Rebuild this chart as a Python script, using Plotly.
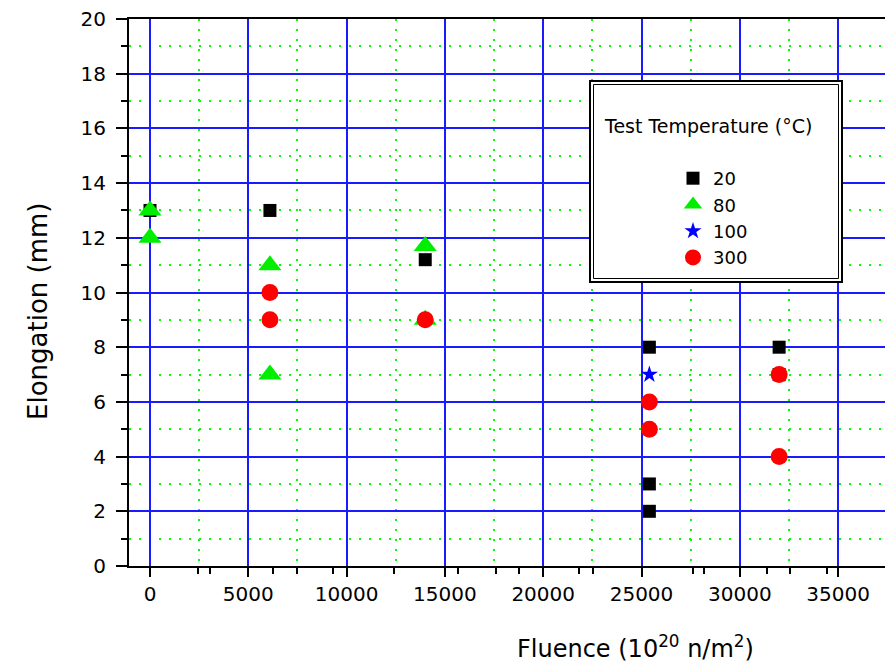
import plotly.graph_objects as go

# ---- data ----
fluence_20 = [0, 6100, 14000, 25400, 25400, 25400, 32000, 32000]
elong_20 = [13, 13, 11.2, 8, 3, 2, 8, 7]
fluence_80 = [0, 0, 6100, 6100, 14000, 14000]
elong_80 = [13, 12, 11, 7, 11.7, 9]
fluence_100 = [25400, 32000]
elong_100 = [7, 7]
fluence_300 = [6100, 6100, 14000, 25400, 25400, 32000, 32000]
elong_300 = [10, 9, 9, 6, 5, 7, 4]

series_names = ["20", "80", "100", "300"]
x_tick_vals = [0, 5000, 10000, 15000, 20000, 25000, 30000, 35000]
y_tick_vals = [0, 2, 4, 6, 8, 10, 12, 14, 16, 18, 20]
x_minor_ticks = [2450, 3060, 6275, 7500, 9290, 12400, 15660, 17600, 18780,
                 21840, 22550, 27600, 28160, 31380, 32550, 34440]

FONT = "DejaVu Sans"
W, H = 885, 665
L, R, T, B = 129, 885, 19, 566


def px_x(p):
    return (p - L) / (R - L)


def px_y(p):
    return (B - p) / (B - T)


fig = go.Figure()
fig.add_trace(go.Scatter(x=fluence_20, y=elong_20, mode="markers", name=series_names[0],
                         legendgroup="a",
                         marker=dict(symbol="square", size=13, color="black")))
fig.add_trace(go.Scatter(x=fluence_80, y=elong_80, mode="markers", name=series_names[1],
                         legendgroup="b",
                         marker=dict(symbol="triangle-up", size=20, color="#00ee00")))
fig.add_trace(go.Scatter(x=fluence_100, y=elong_100, mode="markers", name=series_names[2],
                         legendgroup="c",
                         marker=dict(symbol="star", size=13, color="#0000ff")))
fig.add_trace(go.Scatter(x=fluence_300, y=elong_300, mode="markers", name=series_names[3],
                         legendgroup="d",
                         marker=dict(symbol="circle", size=17, color="#ff0000")))
# empty helper trace to activate the minor-tick overlay axis
fig.add_trace(go.Scatter(x=[], y=[], xaxis="x2", showlegend=False, hoverinfo="skip"))

grid_minor = dict(showgrid=True, gridcolor="#00ff00", griddash="2px,8px", gridwidth=2)

fig.update_layout(
    width=W, height=H,
    margin=dict(l=L, r=W - R, t=T, b=H - B, pad=0),
    paper_bgcolor="white", plot_bgcolor="white",
    font=dict(family=FONT, color="black"),
    showlegend=True,
    xaxis=dict(
        range=[-1068, 37385], tickmode="array", tickvals=x_tick_vals, tickformat="d",
        showgrid=True, gridcolor="#1a1aff", gridwidth=2, zeroline=False,
        showline=True, linecolor="black", linewidth=2, mirror=True,
        ticks="outside", ticklen=9, tickwidth=2, tickcolor="black",
        tickfont=dict(size=20, family=FONT, color="black"),
        minor=dict(dtick=2500, tick0=0, ticks="", **grid_minor),
    ),
    xaxis2=dict(
        overlaying="x", matches="x", side="bottom", tickmode="array",
        tickvals=x_minor_ticks, ticks="outside", ticklen=7, tickwidth=2,
        tickcolor="black", showticklabels=False, showgrid=False,
        showline=False, zeroline=False,
    ),
    yaxis=dict(
        range=[0, 20], tickmode="array", tickvals=y_tick_vals,
        showgrid=True, gridcolor="#1a1aff", gridwidth=2, zeroline=False,
        showline=True, linecolor="black", linewidth=2, mirror=False,
        ticks="outside", ticklen=11, tickwidth=2, tickcolor="black",
        tickfont=dict(size=20, family=FONT, color="black"),
        ticklabelstandoff=6,
        minor=dict(dtick=1, tick0=0, ticks="outside", ticklen=6, tickwidth=2,
                   tickcolor="black", **grid_minor),
    ),
    legend=dict(
        x=px_x(673), y=px_y(160), xanchor="left", yanchor="top",
        bgcolor="rgba(0,0,0,0)", borderwidth=0,
        font=dict(size=18, family=FONT, color="black"),
        traceorder="grouped", tracegroupgap=0,
    ),
    shapes=[
        dict(type="rect", xref="paper", yref="paper",
             x0=px_x(590), x1=px_x(842), y0=px_y(81), y1=px_y(282),
             line=dict(color="black", width=2), fillcolor="white", layer="above"),
        dict(type="rect", xref="paper", yref="paper",
             x0=px_x(593.5), x1=px_x(838.5), y0=px_y(84.5), y1=px_y(278.5),
             line=dict(color="black", width=1), fillcolor="rgba(0,0,0,0)", layer="above"),
    ],
    annotations=[
        dict(text="Test Temperature (°C)", xref="paper", yref="paper",
             x=px_x(602), y=px_y(126), xanchor="left", yanchor="middle",
             showarrow=False, font=dict(size=19, family=FONT, color="black")),
        dict(text="Elongation (mm)", xref="paper", yref="paper",
             x=px_x(38), y=px_y(312), xanchor="center", yanchor="middle",
             textangle=-90, showarrow=False,
             font=dict(size=26, family=FONT, color="black")),
        dict(text="Fluence (10<sup>20</sup> n/m<sup>2</sup>)", xref="paper", yref="paper",
             x=px_x(635), y=px_y(647), xanchor="center", yanchor="middle",
             showarrow=False, font=dict(size=24, family=FONT, color="black")),
    ],
)

fig.write_html("out.html")
